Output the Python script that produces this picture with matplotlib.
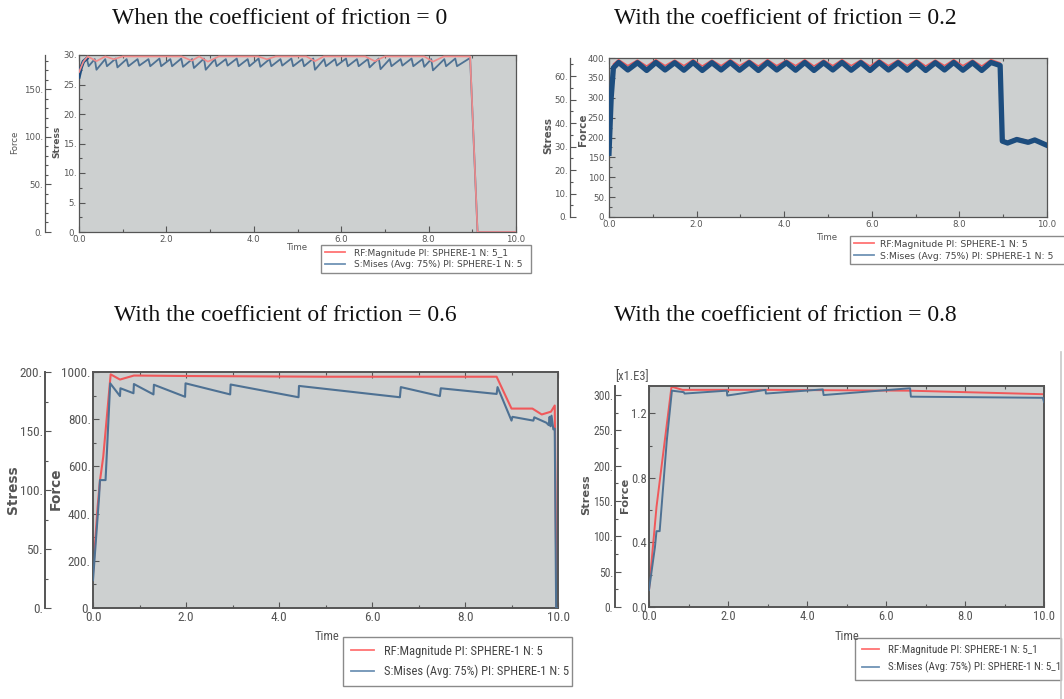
import matplotlib
matplotlib.use("Agg")
import matplotlib.pyplot as plt
import matplotlib.font_manager as fm
from matplotlib.lines import Line2D

# ---------------- data ----------------
titles = ["When the coefficient of friction = 0",
          "With the coefficient of friction = 0.2",
          "With the coefficient of friction = 0.6",
          "With the coefficient of friction = 0.8"]
legend_p1 = ["RF:Magnitude PI: SPHERE-1 N: 5_1", "S:Mises (Avg: 75%) PI: SPHERE-1 N: 5"]
legend_p2 = ["RF:Magnitude PI: SPHERE-1 N: 5", "S:Mises (Avg: 75%) PI: SPHERE-1 N: 5"]
legend_p3 = ["RF:Magnitude PI: SPHERE-1 N: 5", "S:Mises (Avg: 75%) PI: SPHERE-1 N: 5"]
legend_p4 = ["RF:Magnitude PI: SPHERE-1 N: 5_1", "S:Mises (Avg: 75%) PI: SPHERE-1 N: 5_1"]

p1_rf_t = [0.00, 0.10, 0.20, 0.40, 0.60, 0.80, 1.00, 2.35, 2.58, 2.75, 2.95, 3.20, 4.10, 4.30,
           4.50, 5.20, 5.40, 5.60, 6.55, 6.77, 7.00, 7.90, 8.10, 8.35, 8.95, 9.12, 10.00]
p1_rf = [168, 179, 184.5, 179.5, 184.5, 181.5, 184.5, 184.5, 180, 184.5, 179, 184.5, 184.5, 181.5,
         184.5, 184.5, 179.5, 184.5, 184.5, 179.5, 184.5, 184.5, 179, 184.5, 184.5, 0, 0]
p1_s_t = [0.00, 0.05, 0.10, 0.18, 0.22, 0.36, 0.40, 0.60, 0.64, 0.84, 0.88, 1.09, 1.13, 1.34, 1.38,
          1.59, 1.63, 1.84, 1.88, 2.09, 2.13, 2.34, 2.38, 2.59, 2.63, 2.86, 2.90, 3.11, 3.15, 3.36,
          3.40, 3.61, 3.65, 3.86, 3.90, 4.11, 4.15, 4.36, 4.40, 4.61, 4.65, 4.86, 4.90, 5.11, 5.15,
          5.36, 5.40, 5.61, 5.65, 5.86, 5.90, 6.11, 6.15, 6.36, 6.40, 6.61, 6.65, 6.86, 6.90, 7.11,
          7.15, 7.36, 7.40, 7.61, 7.65, 7.86, 7.90, 8.06, 8.10, 8.36, 8.40, 8.61, 8.65, 8.95, 9.12, 10.00]
p1_s = [26.3, 27.9, 28.9, 29.4, 28.1, 29.3, 27.5, 29.3, 28.1, 29.4, 27.9, 29.3, 28.1, 29.3, 28.2,
        29.3, 28.1, 29.4, 28.1, 29.3, 28.1, 29.4, 28.0, 29.3, 27.8, 29.4, 27.5, 29.3, 28.1, 29.3,
        28.2, 29.4, 28.1, 29.3, 28.1, 29.4, 28.0, 29.3, 28.1, 29.3, 28.2, 29.4, 28.1, 29.3, 28.1,
        29.4, 27.5, 29.3, 28.1, 29.3, 28.2, 29.4, 28.1, 29.3, 28.1, 29.3, 27.9, 29.4, 27.6, 29.3,
        28.1, 29.3, 28.2, 29.4, 28.1, 29.3, 28.0, 29.3, 27.4, 29.3, 28.1, 29.4, 28.1, 29.5, 0.0, 0.0]

p2_t = [0.00, 0.05, 0.10, 0.22, 0.43, 0.65, 0.86, 1.07, 1.28, 1.50, 1.71, 1.92, 2.13, 2.35, 2.56,
        2.77, 2.98, 3.20, 3.41, 3.62, 3.83, 4.05, 4.26, 4.47, 4.68, 4.90, 5.11, 5.32, 5.53, 5.75,
        5.96, 6.17, 6.38, 6.60, 6.81, 7.02, 7.23, 7.45, 7.66, 7.87, 8.08, 8.30, 8.51, 8.72, 8.93,
        8.98, 9.10, 9.31, 9.57, 9.72, 10.00]
p2_rf = [170, 320, 385, 396, 381, 395, 380, 396, 381, 395, 381, 396, 380, 395, 381,
         396, 381, 395, 380, 396, 381, 395, 381, 396, 380, 395, 381, 396, 381, 395,
         380, 396, 381, 395, 381, 396, 380, 395, 381, 396, 381, 395, 380, 396, 388,
         194, 190, 199, 192, 197, 184]
p2_s = [27.1, 50.8, 63.5, 65.8, 62.6, 65.7, 62.4, 65.8, 62.6, 65.7, 62.5, 65.8, 62.4, 65.7, 62.6,
        65.8, 62.5, 65.7, 62.4, 65.8, 62.6, 65.7, 62.5, 65.8, 62.4, 65.7, 62.6, 65.8, 62.5, 65.7,
        62.4, 65.8, 62.6, 65.7, 62.5, 65.8, 62.4, 65.7, 62.6, 65.8, 62.5, 65.7, 62.4, 65.8, 64.5,
        32.3, 31.5, 33.0, 31.8, 32.8, 30.5]

p3_rf_t = [0.00, 0.10, 0.15, 0.22, 0.38, 0.58, 0.88, 2.00, 5.00, 8.68, 9.00, 9.45, 9.65, 9.85,
           9.93, 9.97, 10.00]
p3_rf = [150, 430, 540, 640, 990, 968, 985, 983, 980, 980, 845, 845, 820, 832, 858, 0, 0]
p3_s_t = [0.00, 0.13, 0.15, 0.27, 0.37, 0.58, 0.59, 0.87, 0.88, 1.30, 1.31, 1.98, 1.99, 2.95, 2.96,
          4.42, 4.43, 6.60, 6.62, 7.46, 7.48, 8.68, 8.70, 9.00, 9.02, 9.47, 9.49, 9.75, 9.80, 9.82,
          9.84, 9.86, 9.90, 9.93, 9.96, 10.00]
p3_s = [23.6, 94.0, 108.4, 108.4, 190.4, 179.6, 186.2, 182.0, 189.8, 181.0, 189.2, 179.0, 190.4,
        181.0, 189.4, 178.6, 188.2, 178.6, 187.2, 179.6, 186.2, 181.4, 187.2, 158.8, 162.0, 158.8,
        161.6, 157.0, 155.0, 162.0, 154.0, 163.0, 151.4, 152.0, 0.0, 0.0]

p4_rf_t = [0.00, 0.19, 0.57, 0.85, 3.00, 4.50, 6.60, 10.00]
p4_rf = [105, 620, 1365, 1345, 1345, 1343, 1340, 1318]
p4_s_t = [0.00, 0.15, 0.19, 0.27, 0.45, 0.58, 0.88, 0.90, 1.97, 1.98, 2.95, 2.96, 4.40, 4.42,
          6.61, 6.63, 9.97, 10.00]
p4_s = [24.0, 84.5, 107.3, 107.3, 235.3, 306.1, 304.0, 302.0, 306.1, 299.2, 307.2, 302.0, 307.9,
        299.9, 309.5, 297.6, 296.0, 290.1]

# ---------------- style ----------------
W, H = 1064, 699
BG = "#cdd0d0"
SPINE = "#555555"
TXT = "#555555"
RED = "#f0585a"
RED_L = "#f08a8a"
BLUE = "#4e7193"
NAVY = "#1d4d7e"
LEG_RED = "#ff7373"
LEG_BLUE = "#7093b5"


def find_narrow():
    """Pick a condensed sans font if one is installed."""
    best = None
    for f in fm.fontManager.ttflist:
        name = f.name + " " + f.fname
        cond = ("Narrow" in name or "Condensed" in name or "Cond" in f.fname
                or str(f.stretch) in ("condensed", "semi-condensed", "extra-condensed"))
        if not cond or f.style != "normal":
            continue
        w = f.weight if isinstance(f.weight, int) else (700 if "bold" in str(f.weight) else 400)
        if w > 500 or "Bold" in f.fname or "Light" in f.fname or "Mono" in name or "Serif" in name:
            continue
        if "Liberation" in name:
            score = 5
        elif "Roboto" in name:
            score = 4
        elif "Open" in name:
            score = 3
        elif "DejaVu" in name:
            score = 2
        else:
            score = 1
        if best is None or score > best[0]:
            best = (score, f.fname)
    return best[1] if best else None


NARROW_FILE = find_narrow()


def NFP(size):
    if NARROW_FILE:
        return fm.FontProperties(fname=NARROW_FILE, size=size)
    return fm.FontProperties(family="Liberation Sans", size=size * 0.85)


plt.rcParams["font.family"] = ["DejaVu Sans"]
fig = plt.figure(figsize=(W / 100, H / 100), dpi=100)


def ticks(lo, hi, step):
    out = []
    v = lo
    while v <= hi + 1e-9:
        out.append(round(v, 6))
        v += step
    return out


def make_panel(x0, y0, x1, y1, outer_x, in_lim, in_major, in_minor, out_lim, out_major,
               out_minor, fp, slw, in_fmt=lambda v: f"{v:.0f}.", ofp=None):
    ofp = ofp or fp
    ax = fig.add_axes([x0 / W, 1 - y1 / H, (x1 - x0) / W, (y1 - y0) / H])
    ax.set_facecolor(BG)
    ax.set_xlim(0, 10)
    xt = ticks(0, 10, 2)
    ax.set_xticks(xt, [f"{v:.1f}" for v in xt])
    ax.set_xticks(ticks(0, 10, 1), minor=True)
    yt = ticks(in_lim[0], in_lim[1], in_major)
    ax.set_yticks(yt, [in_fmt(v) for v in yt])
    ax.set_yticks(ticks(in_lim[0], in_lim[1], in_minor), minor=True)
    ax.set_ylim(*in_lim)
    ax.tick_params(which="both", direction="in", top=True, right=True, color=SPINE,
                   labelcolor=TXT, width=0.8)
    ax.tick_params(which="major", length=4)
    ax.tick_params(which="minor", length=2.5)
    ax.tick_params(axis="x", pad=2)
    ax.tick_params(axis="y", pad=1.5)
    for lbl in ax.get_xticklabels() + ax.get_yticklabels():
        lbl.set_fontproperties(fp)
    for s in ax.spines.values():
        s.set_color(SPINE)
        s.set_linewidth(slw)
    ax2 = ax.twinx()
    for k in ["top", "right", "bottom"]:
        ax2.spines[k].set_visible(False)
    ax2.spines["left"].set_visible(True)
    ax2.spines["left"].set_position(("outward", (x0 - outer_x) * 0.72))
    ax2.spines["left"].set_color(SPINE)
    ax2.spines["left"].set_linewidth(slw)
    ax2.yaxis.tick_left()
    ax2.yaxis.set_label_position("left")
    ot = ticks(out_lim[0], out_lim[1], out_major)
    ax2.set_yticks(ot, [f"{v:.0f}." for v in ot])
    ax2.set_yticks(ticks(out_lim[0], out_lim[1], out_minor), minor=True)
    ax2.set_ylim(*out_lim)
    ax2.tick_params(which="both", direction="in", color=SPINE, labelcolor=TXT,
                    width=0.8, pad=1.5)
    ax2.tick_params(which="major", length=4)
    ax2.tick_params(which="minor", length=2.5)
    for lbl in ax2.get_yticklabels():
        lbl.set_fontproperties(ofp)
    return ax, ax2


def add_legend(ax, labels, x0, y0, x1, fp, hl, htp, bp=0.4, ls=0.3):
    handles = [Line2D([], [], color=LEG_RED, lw=1.3), Line2D([], [], color=LEG_BLUE, lw=1.3)]
    leg = ax.legend(handles, labels, loc="upper left",
                    bbox_to_anchor=(x0 / W, 1 - y0 / H, (x1 - x0) / W, 0.01),
                    bbox_transform=fig.transFigure, mode="expand", fancybox=False,
                    framealpha=1, edgecolor="#8a8a8a", handlelength=hl, handletextpad=htp,
                    borderpad=bp, labelspacing=ls, borderaxespad=0, prop=fp)
    leg.get_frame().set_linewidth(1.0)
    for t in leg.get_texts():
        t.set_color("#444444")
    leg.set_zorder(10)
    return leg


def ftext(x, y, s, **kw):
    fig.text(x / W, 1 - y / H, s, ha="center", va="center", **kw)


small = fm.FontProperties(family="DejaVu Sans", size=6.2)

# ---------------- panel 1 ----------------
ax, ax2 = make_panel(79, 55, 516, 232, 45, (0, 30), 5, 2.5, (0, 186), 50, 10, small, 0.9)
ax.plot(p1_s_t, p1_s, color=BLUE, lw=1.3, zorder=3)
ax.plot(p1_s_t[:4], p1_s[:4], color=NAVY, lw=2.5, zorder=4)
ax2.plot(p1_rf_t, p1_rf, color=RED_L, lw=1.2)
add_legend(ax2, legend_p1, 321, 252, 531, fm.FontProperties(family="DejaVu Sans", size=6.5),
           2.3, 0.9)
ftext(298, 247, "Time", fontsize=6.2, color=TXT)
ftext(15, 142, "Force", fontsize=6.2, color=TXT, rotation=90)
ftext(57, 142, "Stress", fontsize=6.5, color=TXT, rotation=90, fontweight="bold")

# ---------------- panel 2 ----------------
ax, ax2 = make_panel(609, 58, 1047, 217, 570, (0, 400), 50, 25, (0, 67.7), 10, 5, small, 0.9)
ax.plot(p2_t, p2_rf, color=RED, lw=1.0)
ax2.plot(p2_t, p2_s, color=NAVY, lw=3.8, solid_joinstyle="round")
add_legend(ax2, legend_p2, 850, 243, 1072, fm.FontProperties(family="DejaVu Sans", size=6.7),
           2.2, 0.6)
ftext(828, 237, "Time", fontsize=6.2, color=TXT)
ftext(548, 136, "Stress", fontsize=7.5, color=TXT, rotation=90, fontweight="bold")
ftext(583, 130, "Force", fontsize=7.5, color=TXT, rotation=90, fontweight="bold")

# ---------------- panel 3 ----------------
nfp = NFP(9.5)
ax, ax2 = make_panel(93, 372, 558, 608, 45, (0, 1000), 200, 100, (0, 200), 50, 25, nfp, 1.4)
ax.plot(p3_rf_t, p3_rf, color=RED, lw=1.5)
ax2.plot(p3_s_t, p3_s, color=BLUE, lw=1.5)
add_legend(ax2, legend_p3, 343, 644, 572, NFP(9.0), 1.9, 0.75, 0.6, 0.6)
ftext(327, 636, "Time", color=TXT, fontproperties=NFP(9.0))
ftext(13, 490, "Stress", fontsize=9.8, color=TXT, rotation=90, fontweight="bold")
ftext(56, 489, "Force", fontsize=9.8, color=TXT, rotation=90, fontweight="bold")

# ---------------- panel 4 ----------------
ax, ax2 = make_panel(649, 386, 1044, 607, 615, (0, 1369), 400, 200, (0, 312.7), 50, 25, NFP(9.0),
                     1.4, in_fmt=lambda v: f"{v / 1000:.1f}", ofp=NFP(8.3))
ax.plot(p4_rf_t, p4_rf, color=RED, lw=1.4)
ax2.plot(p4_s_t, p4_s, color=BLUE, lw=1.4)
add_legend(ax2, legend_p4, 855, 645, 1061, NFP(7.9), 1.6, 0.8, 0.6, 0.65)
ftext(847, 636, "Time", color=TXT, fontproperties=NFP(9.0))
ftext(632, 377, "[x1.E3]", color=TXT, fontproperties=NFP(9.0))
ftext(586, 495, "Stress", fontsize=8.2, color=TXT, rotation=90, fontweight="bold")
ftext(625, 495, "Force", fontsize=8.2, color=TXT, rotation=90, fontweight="bold")

fig.add_artist(Line2D([1061 / W, 1061 / W], [0, 1 - 352 / H], transform=fig.transFigure,
                      color="#c8c8c8", lw=1.2))

# ---------------- titles ----------------
for (cx, cy), t in zip([(280, 18), (785, 18), (285, 316), (785, 316)], titles):
    ftext(cx, cy, t, fontsize=17, family="Liberation Serif", color="#111111")

fig.savefig("out.png", dpi=100, facecolor="white")
